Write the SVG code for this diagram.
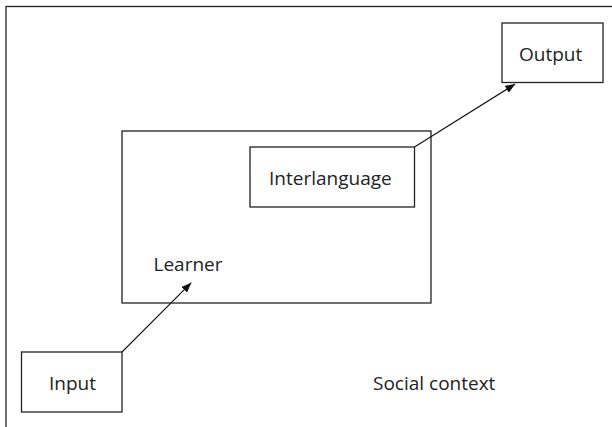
<svg xmlns="http://www.w3.org/2000/svg" width="612" height="427" viewBox="0 0 612 427">
<style>
.box{fill:#fff;stroke:#222;stroke-width:1.3}
.frame{fill:none;stroke:#222;stroke-width:1.3}
.lbl{font-family:"Open Sans","DejaVu Sans",sans-serif;font-size:19px;fill:#222}
.conn{stroke:#111;stroke-width:1.1;fill:none}
</style>
<defs>
<marker id="ah" viewBox="0 0 10 8" refX="10" refY="4" markerWidth="10" markerHeight="8" markerUnits="userSpaceOnUse" orient="auto">
<path d="M0,0 L10,4 L0,8 Z" fill="#111"/>
</marker>
</defs>
<rect width="612" height="427" fill="#fff"/>
<g id="social-context">
<rect class="frame" x="6" y="6.5" width="620" height="440"/>
<text class="lbl" x="373" y="390">Social context</text>
</g>
<g id="learner">
<rect class="box" x="122" y="131" width="309" height="172"/>
<text class="lbl" x="153.5" y="271">Learner</text>
</g>
<g id="interlanguage">
<rect class="box" x="250" y="147" width="164.5" height="60"/>
<text class="lbl" x="269" y="185">Interlanguage</text>
</g>
<g id="output">
<rect class="box" x="502" y="23" width="101" height="59.5"/>
<text class="lbl" x="519" y="61">Output</text>
</g>
<g id="input">
<rect class="box" x="21.5" y="352" width="100.5" height="60"/>
<text class="lbl" x="49" y="390">Input</text>
</g>
<g id="connectors">
<line class="conn" x1="122" y1="352" x2="191.3" y2="282.7" marker-end="url(#ah)"/>
<line class="conn" x1="414.5" y1="147" x2="515.2" y2="84" marker-end="url(#ah)"/>
</g>
</svg>
